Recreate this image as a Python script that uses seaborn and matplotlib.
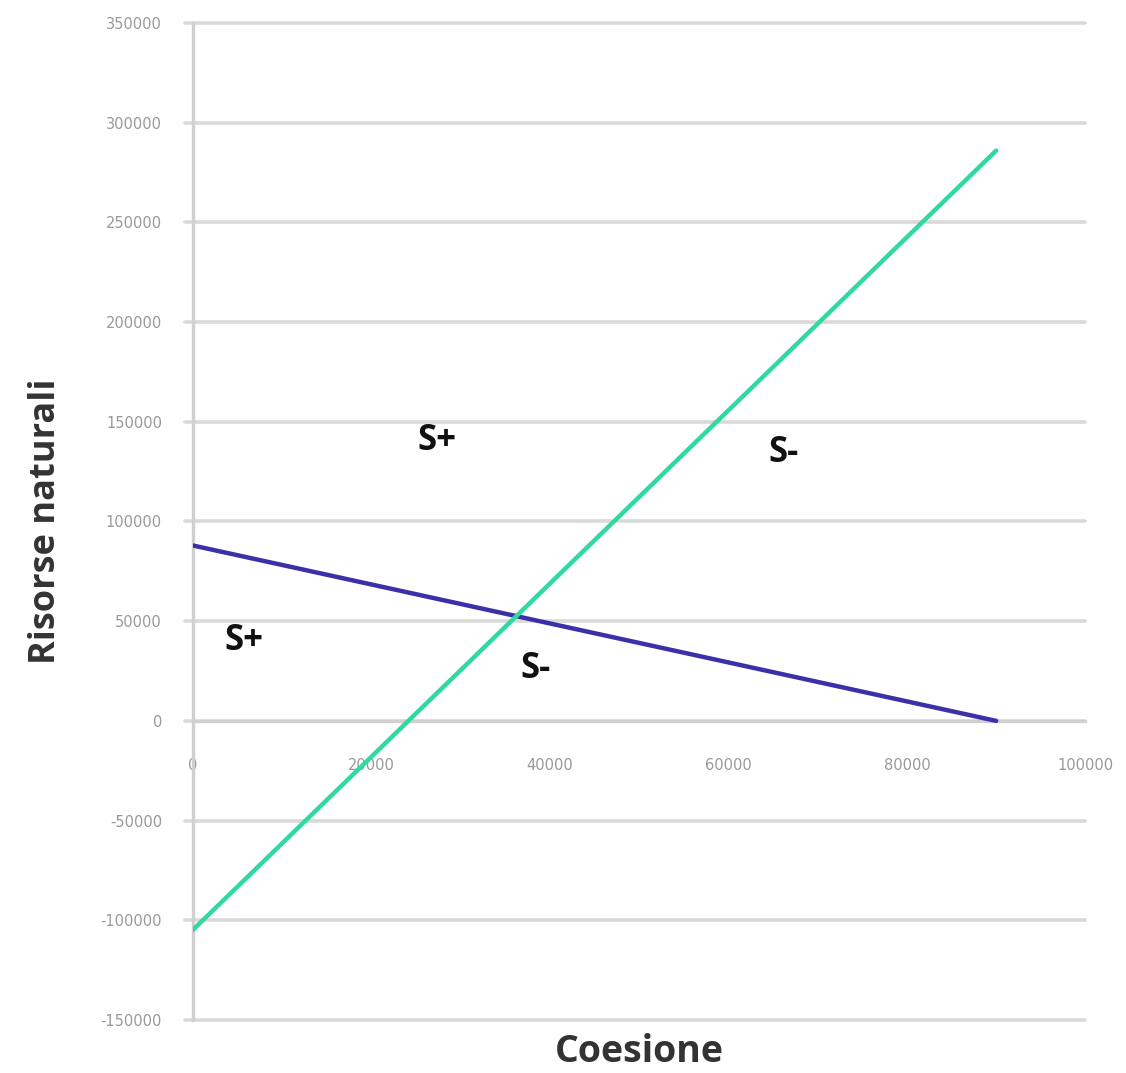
import matplotlib
matplotlib.use("Agg")
import matplotlib.pyplot as plt
import seaborn as sb
import pandas as pd

# lines (end points)
coesione = [0, 90000]
linea_blu = [88000, 0]
linea_verde = [-105000, 286000]

# region labels
etichette = ["S+", "S-", "S+", "S-"]
etichette_x = [27400, 66200, 5800, 38400]
etichette_y = [140400, 134400, 40100, 26100]

x_ticks = [0, 20000, 40000, 60000, 80000, 100000]
y_ticks = [-150000, -100000, -50000, 0, 50000, 100000, 150000, 200000, 250000, 300000, 350000]

df = pd.DataFrame({
    "Coesione": coesione * 2,
    "Risorse": linea_blu + linea_verde,
    "serie": ["blu"] * 2 + ["verde"] * 2,
})

sb.set_style("white")
plt.rcParams["font.family"] = ["DejaVu Sans"]

fig = plt.figure(figsize=(11.26, 10.73), dpi=100)
ax = fig.add_axes([0.171, 0.0494, 0.793, 0.9292])

for y in y_ticks:
    ax.axhline(y, xmin=-0.009, color="#d9d9d9", lw=2.6, zorder=0, clip_on=False)

sb.lineplot(data=df, x="Coesione", y="Risorse", hue="serie",
            palette={"blu": "#3a30a8", "verde": "#2fd9a0"},
            lw=3.2, legend=False, ax=ax, zorder=3)

for t, x, y in zip(etichette, etichette_x, etichette_y):
    ax.text(x, y, t, fontsize=25, fontweight="bold", ha="center", va="center",
            color="#111111", family="Open Sans")

# spine position first: it resets the tick settings
for s in ["top", "right"]:
    ax.spines[s].set_visible(False)
ax.spines["left"].set_color("#d0d0d0")
ax.spines["left"].set_linewidth(2.4)
ax.spines["bottom"].set_position(("data", 0))
ax.spines["bottom"].set_color("#d0d0d0")
ax.spines["bottom"].set_linewidth(2.4)

ax.set_xlim(0, 100000)
ax.set_ylim(-150000, 350000)
ax.set_xticks(x_ticks)
ax.set_yticks(y_ticks)
ax.set_xticklabels([str(v) for v in x_ticks], fontsize=10.5, color="#999999")
ax.set_yticklabels([str(v) for v in y_ticks], fontsize=10.5, color="#999999")
ax.tick_params(axis="x", length=0, pad=27)
ax.tick_params(axis="y", length=0, pad=22)

ax.set_xlabel("")
ax.set_ylabel("Risorse naturali", fontsize=26, fontweight="bold", color="#333333",
              labelpad=26, family="Open Sans")
fig.text(0.568, 0.0196, "Coesione", fontsize=27, fontweight="bold", color="#333333",
         ha="center", va="center", family="Open Sans")

plt.savefig("out.png", dpi=100)
